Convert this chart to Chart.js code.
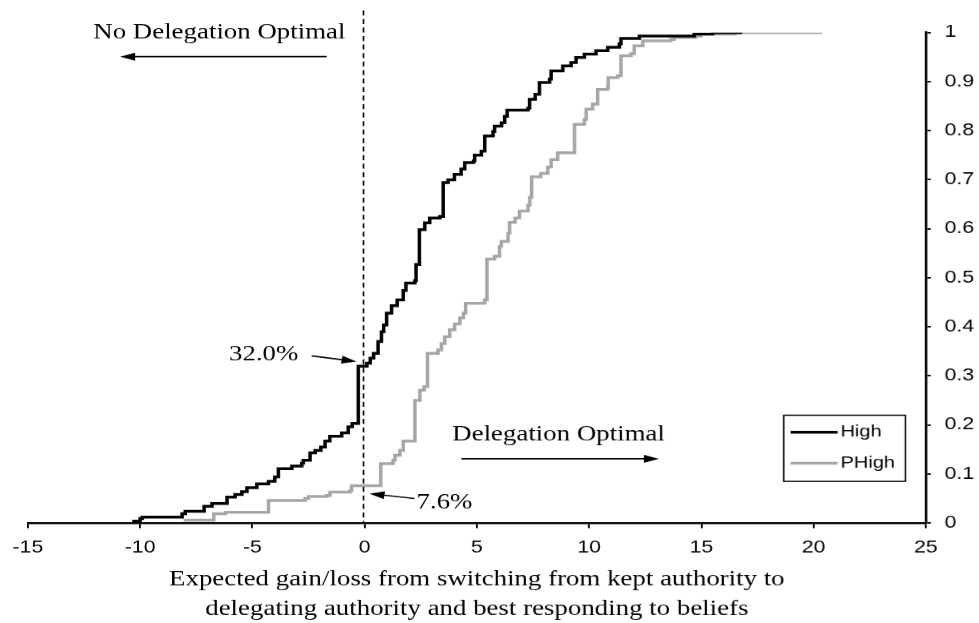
<!DOCTYPE html>
<html>
<head>
<meta charset="utf-8">
<script src="https://cdn.jsdelivr.net/npm/chart.js@4.4.0/dist/chart.umd.min.js"></script>
<style>
	html, body { margin: 0; padding: 0; background: #fff; overflow: hidden; }
	/* the original figure was stretched sideways (~1.25x), so lay the chart out
	   at 783px and scale it back out to the 979px window */
	#wrap { width: 783.2px; height: 623px; transform: scaleX(1.25); transform-origin: 0 0; }
</style>
</head>
<body>
<div id="wrap"><canvas id="myChart"></canvas></div>
<script>
// empirical cdf of expected gain/loss, one step per observation
var highGain = [-10.35, -10.0, -9.9, -8.13, -7.99, -7.15, -6.8, -6.13, -5.77, -5.47, -5.24, -4.8, -4.28, -4.0, -3.84, -3.24, -2.8, -2.73, -2.43, -2.2, -1.95, -1.76, -1.55, -1.02, -0.73, -0.55, -0.28, 0.1, 0.25, 0.4, 0.6, 0.75, 0.85, 0.98, 1.2, 1.45, 1.72, 1.84, 2.24, 2.29, 2.44, 2.68, 2.9, 3.35, 3.5, 3.72, 4.0, 4.3, 4.46, 4.85, 4.9, 5.2, 5.35, 5.72, 5.79, 6.1, 6.24, 6.35, 7.28, 7.35, 7.6, 7.79, 8.24, 8.31, 8.83, 9.2, 9.42, 9.79, 10.31, 10.83, 11.35, 11.42, 12.24, 14.68, 15.5, 16.82];
var highShare = [0.004, 0.009, 0.012, 0.019, 0.024, 0.034, 0.04, 0.053, 0.058, 0.064, 0.072, 0.08, 0.085, 0.094, 0.111, 0.116, 0.122, 0.128, 0.143, 0.148, 0.155, 0.167, 0.177, 0.184, 0.196, 0.203, 0.32, 0.326, 0.336, 0.346, 0.37, 0.39, 0.404, 0.428, 0.443, 0.455, 0.474, 0.489, 0.494, 0.527, 0.598, 0.612, 0.622, 0.625, 0.694, 0.70, 0.711, 0.722, 0.735, 0.738, 0.75, 0.758, 0.789, 0.798, 0.809, 0.816, 0.829, 0.842, 0.846, 0.864, 0.874, 0.898, 0.905, 0.922, 0.932, 0.939, 0.949, 0.956, 0.963, 0.97, 0.977, 0.988, 0.993, 0.997, 1.0, 1.0];

var pHighGain = [-8.06, -6.72, -6.2, -4.28, -2.65, -2.5, -1.69, -1.54, -0.65, -0.58, 0.72, 1.27, 1.35, 1.57, 1.72, 2.24, 2.46, 2.65, 2.8, 3.27, 3.42, 3.57, 3.79, 4.01, 4.24, 4.4, 4.5, 5.35, 5.45, 5.79, 6.01, 6.09, 6.39, 6.46, 6.7, 6.9, 7.28, 7.36, 7.44, 7.85, 8.16, 8.31, 8.6, 9.35, 9.79, 9.87, 10.16, 10.38, 10.83, 10.85, 11.27, 11.42, 11.87, 12.01, 12.39, 13.64, 13.79, 14.76, 14.98, 16.5, 20.38];
var pHighShare = [0.006, 0.019, 0.022, 0.046, 0.05, 0.054, 0.056, 0.063, 0.066, 0.076, 0.121, 0.128, 0.138, 0.148, 0.167, 0.25, 0.271, 0.278, 0.346, 0.353, 0.366, 0.38, 0.394, 0.406, 0.418, 0.428, 0.448, 0.455, 0.538, 0.544, 0.564, 0.574, 0.591, 0.613, 0.622, 0.636, 0.648, 0.664, 0.706, 0.713, 0.726, 0.741, 0.755, 0.813, 0.823, 0.844, 0.854, 0.884, 0.888, 0.908, 0.912, 0.953, 0.957, 0.973, 0.983, 0.986, 0.99, 0.993, 0.997, 1.0, 1.0];

var seriesNames = ["High", "PHigh"];
var seriesColors = ["#000000", "#a6a6a6"];

var xTicks = ["-15", "-10", "-5", "0", "5", "10", "15", "20", "25"];
var yTicks = ["0", "0.1", "0.2", "0.3", "0.4", "0.5", "0.6", "0.7", "0.8", "0.9", "1"];
var xTitle = ["Expected gain/loss from switching from kept authority to", "delegating authority and best responding to beliefs"];

var cutoff = -0.05; // dashed line at zero gain
var highAtCutoff = "32.0%";
var pHighAtCutoff = "7.6%";

function points(xs, ys) {
	return xs.map(function (v, i) {
		return { x: v, y: ys[i] };
	});
}

var serif = '"Liberation Serif", "Times New Roman", serif';
var sans = '"Liberation Sans", Arial, sans-serif';

function arrow(ctx, x1, y1, x2, y2) {
	var a = Math.atan2(y2 - y1, x2 - x1);
	var len = 12, half = 4;
	ctx.beginPath();
	ctx.moveTo(x1, y1);
	ctx.lineTo(x2 - Math.cos(a) * len * 0.8, y2 - Math.sin(a) * len * 0.8);
	ctx.stroke();
	ctx.beginPath();
	ctx.moveTo(x2, y2);
	ctx.lineTo(x2 - len * Math.cos(a) + half * Math.sin(a), y2 - len * Math.sin(a) - half * Math.cos(a));
	ctx.lineTo(x2 - len * Math.cos(a) - half * Math.sin(a), y2 - len * Math.sin(a) + half * Math.cos(a));
	ctx.closePath();
	ctx.fill();
}

// dashed cutoff, the text notes with arrows and the boxed legend
var notes = {
	id: "notes",
	afterDraw: function (chart) {
		var ctx = chart.ctx;
		var px = function (v) { return chart.scales.x.getPixelForValue(v); };
		var py = function (v) { return chart.scales.y.getPixelForValue(v); };
		ctx.save();
		ctx.strokeStyle = "#000";
		ctx.fillStyle = "#000";

		ctx.lineWidth = 1.3;
		ctx.setLineDash([5, 3.5]);
		ctx.beginPath();
		ctx.moveTo(px(cutoff), py(1.045));
		ctx.lineTo(px(cutoff), py(0));
		ctx.stroke();
		ctx.setLineDash([]);

		ctx.font = "21.5px " + serif;
		ctx.textBaseline = "alphabetic";
		ctx.textAlign = "center";
		ctx.fillText("No Delegation Optimal", px(-6.47), py(0.988));
		ctx.fillText("Delegation Optimal", px(8.64), py(0.169));
		ctx.textAlign = "right";
		ctx.fillText(highAtCutoff, px(-2.95), py(0.332));
		ctx.textAlign = "left";
		ctx.fillText(pHighAtCutoff, px(2.31), py(0.029));

		ctx.lineWidth = 1.4;
		arrow(ctx, px(-1.69), py(0.951), px(-10.89), py(0.951));
		arrow(ctx, px(4.31), py(0.131), px(13.11), py(0.131));
		arrow(ctx, px(-2.36), py(0.341), px(-0.36), py(0.329));
		arrow(ctx, px(2.22), py(0.05), px(0.22), py(0.06));

		// legend box
		var l = px(18.67), r = px(24.09), t = py(0.2198), b = py(0.0849);
		ctx.lineWidth = 1.2;
		ctx.strokeRect(l, t, r - l, b - t);
		var rows = [0.185, 0.1217];
		ctx.font = "16px " + sans;
		ctx.textBaseline = "middle";
		ctx.textAlign = "left";
		for (var i = 0; i < seriesNames.length; i++) {
			ctx.strokeStyle = seriesColors[i];
			ctx.lineWidth = 2.8;
			ctx.beginPath();
			ctx.moveTo(px(18.98), py(rows[i]));
			ctx.lineTo(px(21.07), py(rows[i]));
			ctx.stroke();
			ctx.fillStyle = "#000";
			ctx.fillText(seriesNames[i], px(21.2), py(rows[i]));
		}
		ctx.restore();
	},
};

window.onload = function () {
	var ctx = document.getElementById("myChart").getContext("2d");
	var myChart = new Chart(ctx, {
		type: "line",
		data: {
			datasets: [
				{
					label: seriesNames[0],
					data: points(highGain, highShare),
					borderColor: seriesColors[0],
					borderWidth: 2.8,
					stepped: true,
					pointRadius: 0,
					fill: false,
				},
				{
					label: seriesNames[1],
					data: points(pHighGain, pHighShare),
					borderColor: seriesColors[1],
					borderWidth: 2.8,
					stepped: true,
					pointRadius: 0,
					fill: false,
				},
			],
		},
		options: {
			responsive: true,
			maintainAspectRatio: false,
			devicePixelRatio: 1.25,
			animation: false,
			layout: {
				padding: { left: 20.4, top: 32.5, right: 0, bottom: 0 },
			},
			plugins: {
				legend: { display: false },
				tooltip: { enabled: false },
			},
			scales: {
				x: {
					type: "linear",
					min: -15,
					max: 25,
					ticks: {
						stepSize: 5,
						color: "#000",
						padding: 10,
						font: { family: sans, size: 17 },
						callback: function (v, i) {
							return xTicks[i];
						},
					},
					grid: { drawOnChartArea: false, drawTicks: true, tickLength: 5, color: "#000", lineWidth: 1.5 },
					border: { color: "#000", width: 2 },
					title: {
						display: true,
						text: xTitle,
						color: "#000",
						font: { family: serif, size: 21.5, lineHeight: 1.35 },
						padding: { top: 0, bottom: 0 },
					},
					afterFit: function (s) {
						s.height = 100.5;
					},
				},
				y: {
					position: "right",
					min: 0,
					max: 1,
					ticks: {
						stepSize: 0.1,
						color: "#000",
						padding: 11,
						font: { family: sans, size: 17 },
						callback: function (v, i) {
							return yTicks[i];
						},
					},
					grid: { drawOnChartArea: false, drawTicks: true, tickLength: 4, color: "#000", lineWidth: 1.5 },
					border: { color: "#000", width: 2 },
					afterFit: function (s) {
						s.width = 42.4;
					},
				},
			},
		},
		plugins: [notes],
	});
};
</script>
</body>
</html>
